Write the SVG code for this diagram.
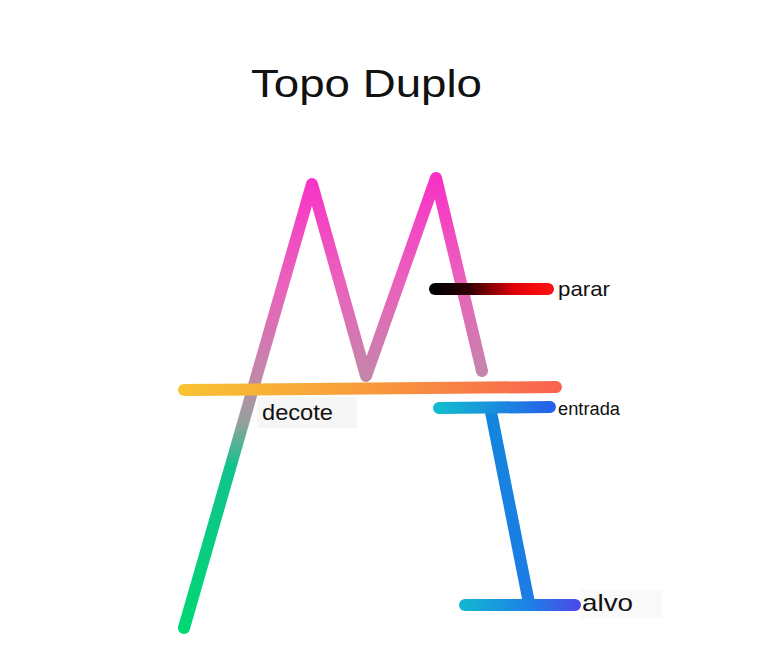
<svg xmlns="http://www.w3.org/2000/svg" width="779" height="652" viewBox="0 0 779 652">
<defs>
<linearGradient id="gM" gradientUnits="userSpaceOnUse" x1="0" y1="630" x2="0" y2="176">
<stop offset="0" stop-color="#00d872"/>
<stop offset="0.36" stop-color="#12c28e"/>
<stop offset="0.46" stop-color="#96a09e"/>
<stop offset="0.56" stop-color="#c486aa"/>
<stop offset="0.76" stop-color="#ea62bc"/>
<stop offset="1" stop-color="#f832c6"/>
</linearGradient>
<linearGradient id="gNeck" gradientUnits="userSpaceOnUse" x1="184" y1="0" x2="556" y2="0">
<stop offset="0" stop-color="#f8c232"/>
<stop offset="0.5" stop-color="#f89a3c"/>
<stop offset="1" stop-color="#f86450"/>
</linearGradient>
<linearGradient id="gStop" gradientUnits="userSpaceOnUse" x1="435" y1="0" x2="548" y2="0">
<stop offset="0" stop-color="#000000"/>
<stop offset="0.3" stop-color="#300004"/>
<stop offset="0.7" stop-color="#e00008"/>
<stop offset="1" stop-color="#ff1010"/>
</linearGradient>
<linearGradient id="gEntry" gradientUnits="userSpaceOnUse" x1="439" y1="0" x2="550" y2="0">
<stop offset="0" stop-color="#12bad0"/>
<stop offset="1" stop-color="#2462ea"/>
</linearGradient>
<linearGradient id="gTarget" gradientUnits="userSpaceOnUse" x1="465" y1="0" x2="576" y2="0">
<stop offset="0" stop-color="#14b4d2"/>
<stop offset="0.6" stop-color="#1e7ee6"/>
<stop offset="1" stop-color="#4a4ce8"/>
</linearGradient>
<linearGradient id="gVert" gradientUnits="userSpaceOnUse" x1="0" y1="410" x2="0" y2="605">
<stop offset="0" stop-color="#1486dc"/>
<stop offset="1" stop-color="#1c7ce6"/>
</linearGradient>
</defs>
<style>
.ln{fill:none;stroke-linecap:round;stroke-linejoin:round;stroke-width:12}
.lb{font-family:"Liberation Sans",Arial,sans-serif;fill:#111}
</style>
<rect width="779" height="652" fill="#ffffff"/>
<text x="251" y="97" class="lb" font-size="39" fill="#000" textLength="231" lengthAdjust="spacingAndGlyphs">Topo Duplo</text>
<g id="price">
<polyline class="ln" stroke="url(#gM)" points="184,628 312,184 366,376 436,178 482,371"/>
</g>
<g id="neckline">
<line class="ln" stroke="url(#gNeck)" x1="184" y1="390" x2="556" y2="387"/>
</g>
<g id="decote">
<rect x="257" y="397" width="100" height="31" fill="#f6f6f6"/>
<text x="262" y="420" class="lb" font-size="22" textLength="71" lengthAdjust="spacingAndGlyphs">decote</text>
</g>
<g id="stop">
<line class="ln" stroke="url(#gStop)" x1="435" y1="289" x2="548" y2="289"/>
<text x="558" y="296" class="lb" font-size="21" textLength="52" lengthAdjust="spacingAndGlyphs">parar</text>
</g>
<g id="target-path">
<line class="ln" stroke="url(#gVert)" x1="491" y1="412" x2="529" y2="603"/>
</g>
<g id="entry">
<line class="ln" stroke="url(#gEntry)" x1="439" y1="408" x2="550" y2="407"/>
<text x="558" y="415" class="lb" font-size="18" textLength="62" lengthAdjust="spacingAndGlyphs">entrada</text>
</g>
<g id="target">
<rect x="580" y="590" width="82" height="28" fill="#f9f9f9"/>
<line class="ln" stroke="url(#gTarget)" x1="465" y1="605" x2="575" y2="605"/>
<text x="582" y="611" class="lb" font-size="24" textLength="51" lengthAdjust="spacingAndGlyphs">alvo</text>
</g>
</svg>
